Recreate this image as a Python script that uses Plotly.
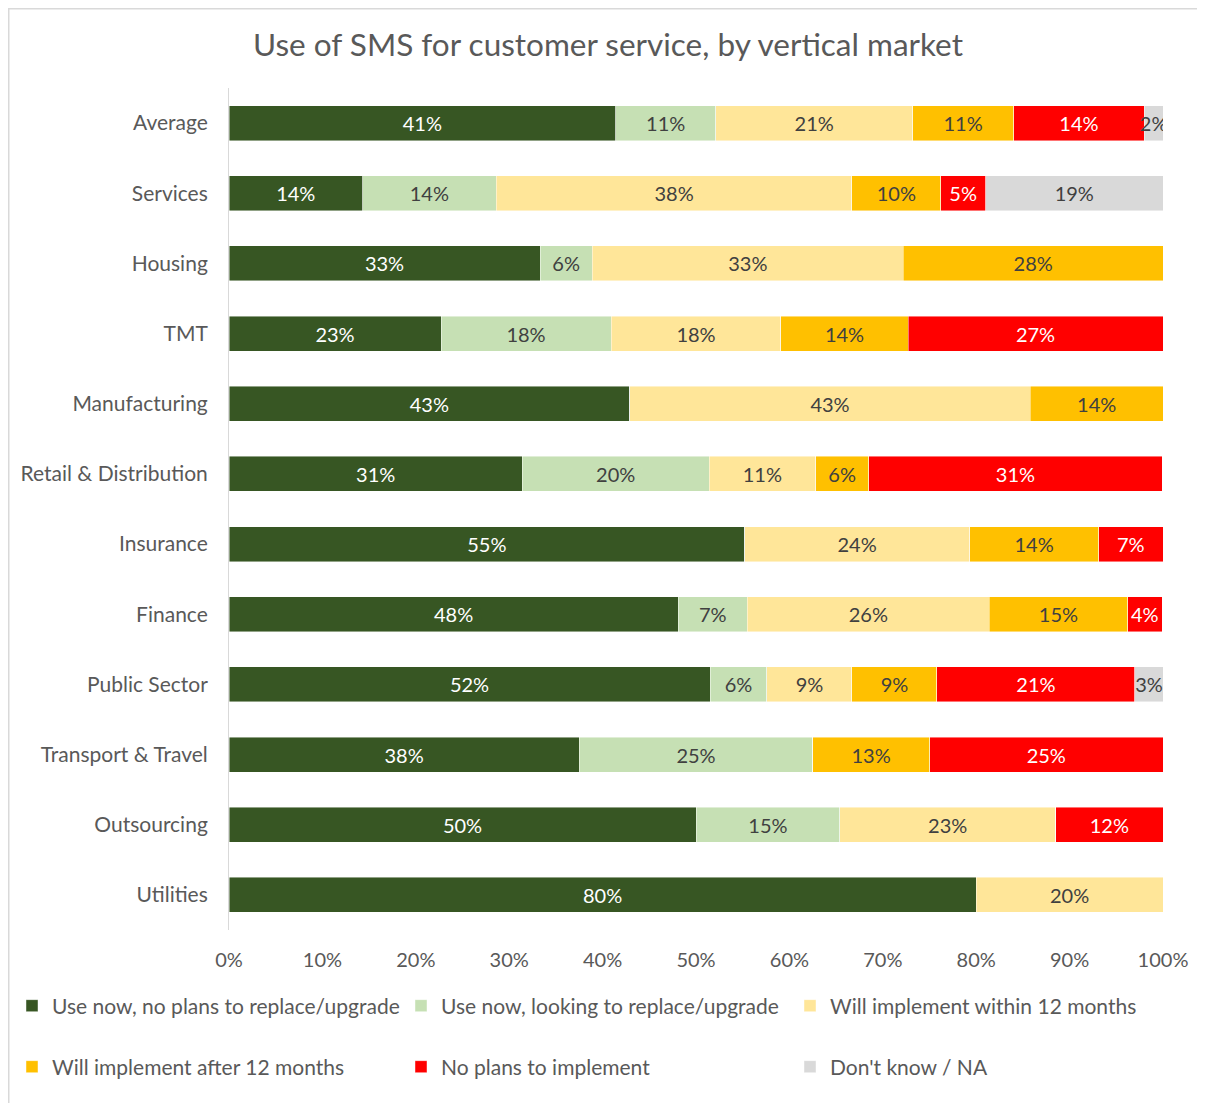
import plotly.graph_objects as go

categories = ["Average", "Services", "Housing", "TMT", "Manufacturing",
              "Retail & Distribution", "Insurance", "Finance", "Public Sector",
              "Transport & Travel", "Outsourcing", "Utilities"]

series_names = ["Use now, no plans to replace/upgrade",
                "Use now, looking to replace/upgrade",
                "Will implement within 12 months",
                "Will implement after 12 months",
                "No plans to implement",
                "Don't know / NA"]

use_now_no_plans = [41.4, 14.3, 33.3, 22.7, 42.9, 31.4, 55.2, 48.1, 51.5, 37.5, 50.0, 80.0]
use_now_replace = [10.7, 14.3, 5.6, 18.2, 0, 20.0, 0, 7.4, 6.1, 25.0, 15.4, 0]
within_12_months = [21.1, 38.1, 33.3, 18.2, 42.9, 11.4, 24.1, 25.9, 9.1, 0, 23.1, 20.0]
after_12_months = [10.8, 9.5, 27.8, 13.6, 14.2, 5.7, 13.8, 14.8, 9.1, 12.5, 0, 0]
no_plans = [14.0, 4.8, 0, 27.3, 0, 31.4, 6.9, 3.7, 21.2, 25.0, 11.5, 0]
dont_know = [2.0, 19.0, 0, 0, 0, 0, 0, 0, 3.0, 0, 0, 0]

series_values = [use_now_no_plans, use_now_replace, within_12_months,
                 after_12_months, no_plans, dont_know]
colors = ["#375623", "#C6E0B4", "#FFE699", "#FFC000", "#FF0000", "#D9D9D9"]
text_colors = ["#FFFFFF", "#404040", "#404040", "#404040", "#FFFFFF", "#404040"]

FONT = "Lato, 'Open Sans', sans-serif"
GREY = "#595959"

# figure is placed at page offset (8, 8) by the browser's body margin
OFF = 8
W, H = 1197, 1095
L, R, T, B = 221, 42, 80, 173
pw, ph = W - L - R, H - T - B


def px_x(page_x):
    return (page_x - OFF - L) / pw


def px_y(page_y):
    return (H - B - (page_y - OFF)) / ph


legend_ids = ["legend", "legend2", "legend3", "legend4", "legend5", "legend6"]
legend_pos = [(12, 1006), (401, 1006), (790, 1006),
              (12, 1067), (401, 1067), (790, 1067)]

fig = go.Figure()
for i, (name, vals) in enumerate(zip(series_names, series_values)):
    labels = [f"{int(v + 0.5)}%" if v > 0 else "" for v in vals]
    fig.add_trace(go.Bar(
        y=categories, x=vals, name=name, orientation="h",
        marker=dict(color=colors[i], line=dict(color="rgba(255,255,255,0.6)", width=0.75)),
        text=labels, textposition="inside", insidetextanchor="middle",
        textangle=0, constraintext="none",
        textfont=dict(family=FONT, size=20, color=text_colors[i]),
        legend=legend_ids[i],
        hoverinfo="skip",
    ))

legends = {}
for lid, (lx, ly) in zip(legend_ids, legend_pos):
    legends[lid] = dict(
        orientation="h", xanchor="left", yanchor="middle",
        x=px_x(lx), y=px_y(ly),
        font=dict(family=FONT, size=21, color=GREY),
        bgcolor="rgba(0,0,0,0)", borderwidth=0,
    )

fig.update_layout(
    width=W, height=H,
    margin=dict(l=L, r=R, t=T, b=B, autoexpand=False),
    paper_bgcolor="white", plot_bgcolor="white",
    barmode="stack", bargap=0.5,
    font=dict(family=FONT, color=GREY, size=20),
    title=dict(text="Use of SMS for customer service, by vertical market",
               x=(608 - OFF) / W, xanchor="center", y=1 - (45 - OFF) / H, yanchor="middle",
               xref="container", yref="container",
               font=dict(family=FONT, size=31.5, color=GREY)),
    xaxis=dict(range=[0, 100], dtick=10, tick0=0, ticksuffix="%",
               showgrid=False, zeroline=False, showline=False,
               ticks="", ticklabelstandoff=16,
               tickfont=dict(family=FONT, size=20, color=GREY), fixedrange=True),
    yaxis=dict(autorange="reversed", showgrid=False, zeroline=False,
               showline=True, linecolor="#D9D9D9", linewidth=1,
               ticks="", ticklabelstandoff=16,
               tickfont=dict(family=FONT, size=21, color=GREY), fixedrange=True),
    showlegend=True,
    shapes=[dict(type="rect", xref="paper", yref="paper",
                 x0=px_x(8.75), x1=px_x(1230), y0=px_y(1130), y1=px_y(8.75),
                 line=dict(color="#D9D9D9", width=1.5), fillcolor="rgba(0,0,0,0)",
                 layer="below")],
    **legends,
)

fig.write_html("out.html")
